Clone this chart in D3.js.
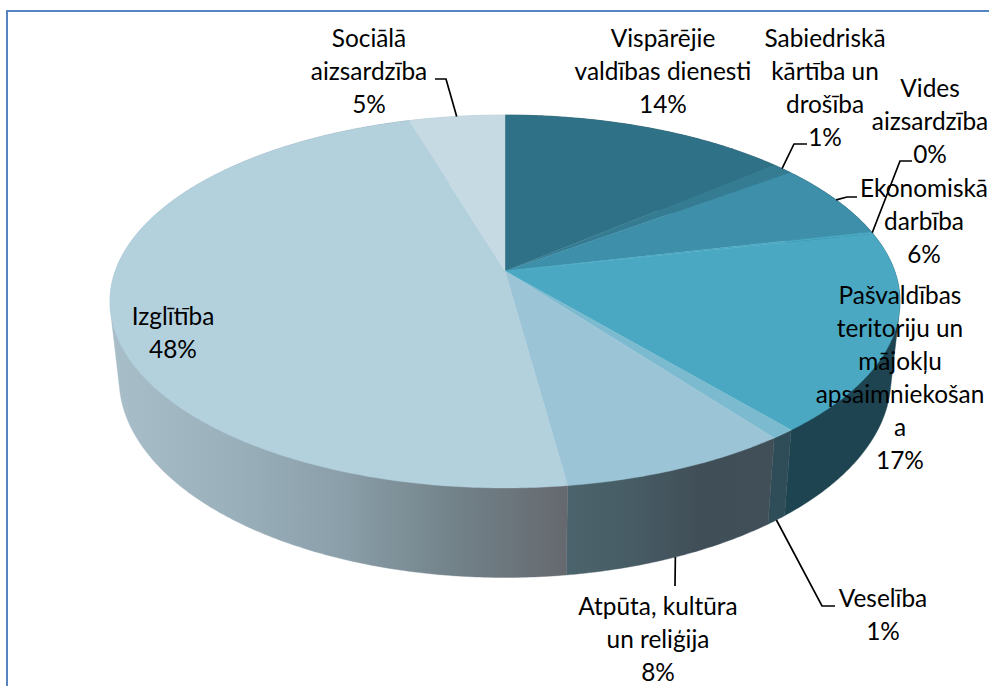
<!DOCTYPE html>
<html>
<head>
<meta charset="utf-8">
<script src="https://cdnjs.cloudflare.com/ajax/libs/d3/7.8.5/d3.min.js"></script>
<style>
html, body { margin: 0; padding: 0; background: #fff; overflow: hidden; }
text { font-family: Lato, "Noto Sans", sans-serif; font-size: 24.4px; fill: #000; text-anchor: middle; }
</style>
</head>
<body>
<div id="container"></div>
<script>
var WIDTH = 989, HEIGHT = 686;

// slice names and shares (%), clockwise from 12 o'clock
var categories = ['Vispārējie valdības dienesti', 'Sabiedriskā kārtība un drošība', 'Ekonomiskā darbība', 'Vides aizsardzība',
    'Pašvaldības teritoriju un mājokļu apsaimniekošana', 'Veselība', 'Atpūta, kultūra un reliģija', 'Izglītība', 'Sociālā aizsardzība'];
var values = [13.8, 1.04, 6.56, 0.2, 17.3, 0.85, 8.1, 47.55, 4.6];
var percentLabels = ['14%', '1%', '6%', '0%', '17%', '1%', '8%', '48%', '5%'];
var labelLines = [
    ['Vispārējie', 'valdības dienesti', '14%'],
    ['Sabiedriskā', 'kārtība un', 'drošība', '1%'],
    ['Ekonomiskā', 'darbība', '6%'],
    ['Vides', 'aizsardzība', '0%'],
    ['Pašvaldības', 'teritoriju un', 'mājokļu', 'apsaimniekošan', 'a', '17%'],
    ['Veselība', '1%'],
    ['Atpūta, kultūra', 'un reliģija', '8%'],
    ['Izglītība', '48%'],
    ['Sociālā', 'aizsardzība', '5%']
];

var topColors = ['#2F7287', '#357C93', '#3E8FAA', '#4AA8C3', '#4AA8C3', '#7CBAD0', '#9BC5D6', '#B3D0DD', '#C6DAE4'];
var sideStops = [
    ['#1D4450', '#1D4450'], ['#1D4450', '#1D4450'], ['#1D4450', '#1D4450'], ['#1D4450', '#1D4450'],
    ['#1D4450', '#1D4450'],
    ['#2F4D58', '#2F4D58'],
    ['#4C646D', '#475C65', '#404E57', '#414F58'],
    ['#A7BDC8', '#9AB0BB', '#8A9FA9', '#728289', '#65696F'],
    ['#A7BDC8', '#A7BDC8']
];

// label placement: centre x, first baseline, optional leader elbow (text end, bend), and which rim the leader starts on
var labelPos = [
    {x: 663, y: 47},
    {x: 825, y: 47, leader: [[807, 144], [794, 144]], rim: 'top'},
    {x: 924, y: 197, leader: [[857, 197], [847, 197]], rim: 'top'},
    {x: 930, y: 97, leader: [[912, 161], [900, 161]], rim: 'top'},
    {x: 900, y: 304},
    {x: 883, y: 607, leader: [[835, 606], [822, 606]], rim: 'bottom'},
    {x: 658, y: 615, leader: [[675, 586]], rim: 'bottom'},
    {x: 173, y: 325},
    {x: 369, y: 47, leader: [[435, 79], [446, 79]], rim: 'top'}
];

// perspective of the pie disc
var cx = 505, cy = 271, persp = 0.1635;
var x = d3.scaleLinear().domain([-1, 1]).range([cx - 389.7, cx + 389.7]);
var y = d3.scaleLinear().domain([-1, 1]).range([cy - 181.5, cy + 181.5]);
// lower rim of the disc
var xLow = d3.scaleLinear().domain([-1, 1]).range([cx - 389.7 * 0.977, cx + 389.7 * 0.977]);
var yLow = d3.scaleLinear().domain([-1, 1]).range([cy + 75 - 181.5 * 1.067, cy + 75 + 181.5 * 1.067]);

function rim(a, sx, sy) {
    var px = Math.sin(a), py = -Math.cos(a), w = 1 - persp * py;
    return [sx(px / w), sy(py / w)];
}
function topRim(a) { return rim(a, x, y); }
function lowRim(a) { return rim(a, xLow, yLow); }
function sweep(d) {
    var n = Math.max(2, Math.ceil((d.endAngle - d.startAngle) / 0.01));
    return d3.range(n + 1).map(function(i) {
        return d.startAngle + (d.endAngle - d.startAngle) * i / n;
    });
}

var pie = d3.pie().sort(null).value(function(d) { return d; });
var arcs = pie(values);
var line = d3.line();

var svg = d3.select('#container').append('svg').attr('width', WIDTH).attr('height', HEIGHT).style('display', 'block');

// frame, only top and left edges are in the shot
svg.append('path').attr('d', line([[7, HEIGHT], [7, 11], [WIDTH, 11]]))
    .attr('fill', 'none').attr('stroke', '#5585C0').attr('stroke-width', 2);

var defs = svg.append('defs');
sideStops.forEach(function(stops, i) {
    var pts = sweep(arcs[i]).map(lowRim);
    var ext = d3.extent(pts, function(p) { return p[0]; });
    var grad = defs.append('linearGradient').attr('id', 'side' + i)
        .attr('gradientUnits', 'userSpaceOnUse')
        .attr('x1', ext[0]).attr('x2', ext[1]).attr('y1', 0).attr('y2', 0);
    stops.forEach(function(c, j) {
        grad.append('stop').attr('offset', j / (stops.length - 1)).attr('stop-color', c);
    });
});

// side walls first, then the top face covers what is behind.
// hull of both rims gives the straight tangent at the left and right silhouette
svg.append('g').selectAll('path').data(arcs).enter().append('path')
    .attr('d', function(d) {
        var angles = sweep(d);
        return line(d3.polygonHull(angles.map(topRim).concat(angles.map(lowRim)))) + 'Z';
    })
    .attr('fill', function(d, i) { return 'url(#side' + i + ')'; })
    .attr('stroke', function(d, i) { return 'url(#side' + i + ')'; })
    .attr('stroke-width', 0.4);

svg.append('g').selectAll('path').data(arcs).enter().append('path')
    .attr('d', function(d) {
        return line([[cx, cy]].concat(sweep(d).map(topRim))) + 'Z';
    })
    .attr('fill', function(d, i) { return topColors[i]; })
    .attr('stroke', function(d, i) { return topColors[i]; })
    .attr('stroke-width', 0.4);

// leader lines start at the middle of the slice on its rim
var leaders = svg.append('g').attr('fill', 'none').attr('stroke', '#000').attr('stroke-width', 1.7);
arcs.forEach(function(d, i) {
    var p = labelPos[i];
    if (!p.leader) return;
    var mid = (d.startAngle + d.endAngle) / 2;
    var start = p.rim === 'top' ? topRim(mid) : lowRim(mid);
    leaders.append('path').attr('d', line(p.leader.concat([start])));
});

var labels = svg.append('g');
labelLines.forEach(function(lines, i) {
    var p = labelPos[i];
    var t = labels.append('text').attr('aria-label', categories[i] + ' ' + percentLabels[i]);
    lines.forEach(function(s, j) {
        t.append('tspan').attr('x', p.x).attr('y', p.y + j * 33).text(s);
    });
});
</script>
</body>
</html>
